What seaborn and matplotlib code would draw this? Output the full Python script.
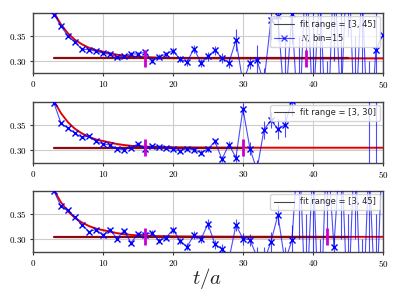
import matplotlib
matplotlib.use("Agg")
import matplotlib.pyplot as plt
from matplotlib.lines import Line2D
from matplotlib.ticker import FuncFormatter
import seaborn as sns
import pandas as pd

# time slices
t = list(range(3, 51))

# effective mass, three fits
m1 = [0.393, 0.370, 0.349, 0.337, 0.323, 0.322, 0.319, 0.315, 0.313, 0.307,
      0.309, 0.314, 0.313, 0.317, 0.300, 0.308, 0.313, 0.320, 0.303, 0.297,
      0.324, 0.296, 0.309, 0.321, 0.305, 0.296, 0.341, 0.255, 0.296, 0.301,
      0.255, 0.382, 0.390, 0.200, 0.394, 0.150, 0.500, 0.200, 0.450, 0.100,
      0.500, 0.200, 0.550, 0.150, 0.450, 0.100, 0.322, 0.352]
e1 = [0.002, 0.002, 0.002, 0.002, 0.002, 0.002, 0.002, 0.003, 0.003, 0.003,
      0.003, 0.004, 0.004, 0.004, 0.005, 0.005, 0.005, 0.006, 0.006, 0.007,
      0.008, 0.008, 0.009, 0.009, 0.010, 0.011, 0.022, 0.020, 0.012, 0.030,
      0.030, 0.040, 0.050, 0.150, 0.060, 0.200, 0.200, 0.200, 0.200, 0.200,
      0.200, 0.200, 0.200, 0.200, 0.200, 0.200, 0.100, 0.100]

m2 = [0.393, 0.353, 0.343, 0.333, 0.325, 0.328, 0.317, 0.312, 0.310, 0.302,
      0.301, 0.305, 0.312, 0.303, 0.308, 0.307, 0.305, 0.302, 0.298, 0.303,
      0.300, 0.295, 0.302, 0.317, 0.282, 0.311, 0.285, 0.382, 0.303, 0.260,
      0.340, 0.359, 0.342, 0.350, 0.398, 0.450, 0.500, 0.470, 0.550, 0.500,
      0.600, 0.480, 0.520, 0.580, 0.500, 0.550, 0.600, 0.500]
e2 = [0.002, 0.002, 0.002, 0.002, 0.002, 0.002, 0.002, 0.002, 0.002, 0.002,
      0.002, 0.003, 0.003, 0.003, 0.003, 0.003, 0.003, 0.004, 0.004, 0.004,
      0.004, 0.005, 0.005, 0.005, 0.006, 0.006, 0.008, 0.012, 0.012, 0.020,
      0.018, 0.016, 0.020, 0.025, 0.030, 0.040, 0.040, 0.040, 0.040, 0.040,
      0.040, 0.040, 0.040, 0.040, 0.040, 0.350, 0.400, 0.050]

m3 = [0.395, 0.365, 0.357, 0.343, 0.328, 0.315, 0.319, 0.308, 0.319, 0.301,
      0.317, 0.293, 0.310, 0.309, 0.313, 0.297, 0.303, 0.319, 0.297, 0.285,
      0.308, 0.300, 0.330, 0.290, 0.280, 0.260, 0.328, 0.301, 0.299, 0.265,
      0.255, 0.295, 0.348, 0.255, 0.298, 0.500, 0.150, 0.450, 0.100, 0.500,
      0.285, 0.500, 0.150, 0.500, 0.100, 0.450, 0.150, 0.500]
e3 = [0.002, 0.002, 0.002, 0.002, 0.002, 0.002, 0.002, 0.003, 0.003, 0.003,
      0.003, 0.004, 0.004, 0.004, 0.005, 0.005, 0.005, 0.006, 0.006, 0.007,
      0.008, 0.008, 0.009, 0.009, 0.010, 0.011, 0.012, 0.012, 0.012, 0.020,
      0.030, 0.020, 0.020, 0.030, 0.030, 0.200, 0.200, 0.200, 0.200, 0.200,
      0.020, 0.200, 0.200, 0.200, 0.200, 0.200, 0.200, 0.200]

# fitted curve
fit_t = [3, 4, 5, 6, 7, 8, 9, 10, 11, 12, 13, 14, 15, 16, 18, 20, 25, 30, 40, 50]
fit_m = [0.397, 0.373, 0.355, 0.342, 0.333, 0.326, 0.321, 0.318, 0.315, 0.312,
         0.310, 0.3085, 0.3075, 0.307, 0.306, 0.3055, 0.305, 0.3048, 0.3047, 0.3047]

plateau = 0.3045
plateau_err = 0.002
fit_ranges = [(3, 45), (3, 30), (3, 45)]
marks = [(16, 39), (16, 30), (16, 42)]

series = [(m1, e1), (m2, e2), (m3, e3)]

sns.set_theme(style="whitegrid")
plt.rcParams["mathtext.fontset"] = "cm"
plt.rcParams["font.family"] = ["DejaVu Sans"]

fig = plt.figure(figsize=(3.98, 2.99), dpi=100)
boxes = [(0.083, 0.756, 0.879, 0.200),
         (0.083, 0.456, 0.879, 0.204),
         (0.083, 0.158, 0.879, 0.204)]

mathfmt = FuncFormatter(lambda v, p: "$%g$" % v)
mathfmt_y = FuncFormatter(lambda v, p: "$%.2f$" % v)

for i, (m, e) in enumerate(series):
    ax = fig.add_axes(boxes[i])
    df = pd.DataFrame({"t": t, "m": m, "err": e})

    # fit curve with band
    lo = [v - 0.0025 for v in fit_m]
    hi = [v + 0.0025 for v in fit_m]
    ax.fill_between(fit_t, lo, hi, color="#f08080", alpha=0.5, lw=0, zorder=2)
    sns.lineplot(x=fit_t, y=fit_m, ax=ax, color="#e00000", lw=1.3, zorder=3)

    # plateau
    a, b = fit_ranges[i]
    ax.fill_between([a, b], [plateau - plateau_err] * 2, [plateau + plateau_err] * 2,
                    color="#e8a0a0", alpha=0.6, lw=0, zorder=2)
    ax.plot([a, b], [plateau, plateau], color="#8b0a0a", lw=1.6, zorder=3)

    # data
    ax.errorbar(df["t"], df["m"], yerr=df["err"], fmt="none", ecolor="blue",
                elinewidth=0.8, alpha=0.7, zorder=4)
    sns.lineplot(data=df, x="t", y="m", ax=ax, color="blue", lw=0.8, alpha=0.7,
                 zorder=4)
    ax.plot(df["t"], df["m"], ls="none", marker="x", ms=4.5, mew=1.0,
            color="blue", zorder=5)

    # magenta markers
    ax.vlines(list(marks[i]), plateau - 0.017, plateau + 0.017, color="#cc00cc",
              lw=2.0, zorder=6)

    ax.set_xlim(0, 50)
    ax.set_ylim(0.275, 0.396)
    ax.set_xticks([0, 10, 20, 30, 40, 50])
    ax.set_yticks([0.30, 0.35])
    ax.xaxis.set_major_formatter(mathfmt)
    ax.yaxis.set_major_formatter(mathfmt_y)
    ax.tick_params(labelsize=6.5, length=2.5, width=0.8, direction="out",
                   bottom=True, left=True, pad=2, colors="#333333",
                   labelcolor="black")
    ax.set_xlabel("")
    ax.set_ylabel("")
    ax.grid(True, color="#cccccc", lw=0.8)
    for s in ax.spines.values():
        s.set_edgecolor("#444444")
        s.set_linewidth(1.0)

    handles = [Line2D([], [], color="#444444", lw=0.8)]
    labels = ["fit range = [%d, %d]" % fit_ranges[i]]
    if i == 0:
        handles.append(Line2D([], [], color="blue", lw=0.8, alpha=0.7,
                              marker="x", ms=4.5, mew=1.0))
        labels.append("$N$, bin=15")
    ax.legend(handles, labels, loc="upper right", fontsize=6, framealpha=0.8,
              edgecolor="#cccccc", borderpad=0.4, handlelength=2.4,
              labelspacing=0.4, borderaxespad=0.4)

fig.text(0.52, 0.07, "$t/a$", fontsize=15, ha="center", va="center")

fig.savefig("out.png", dpi=100)
